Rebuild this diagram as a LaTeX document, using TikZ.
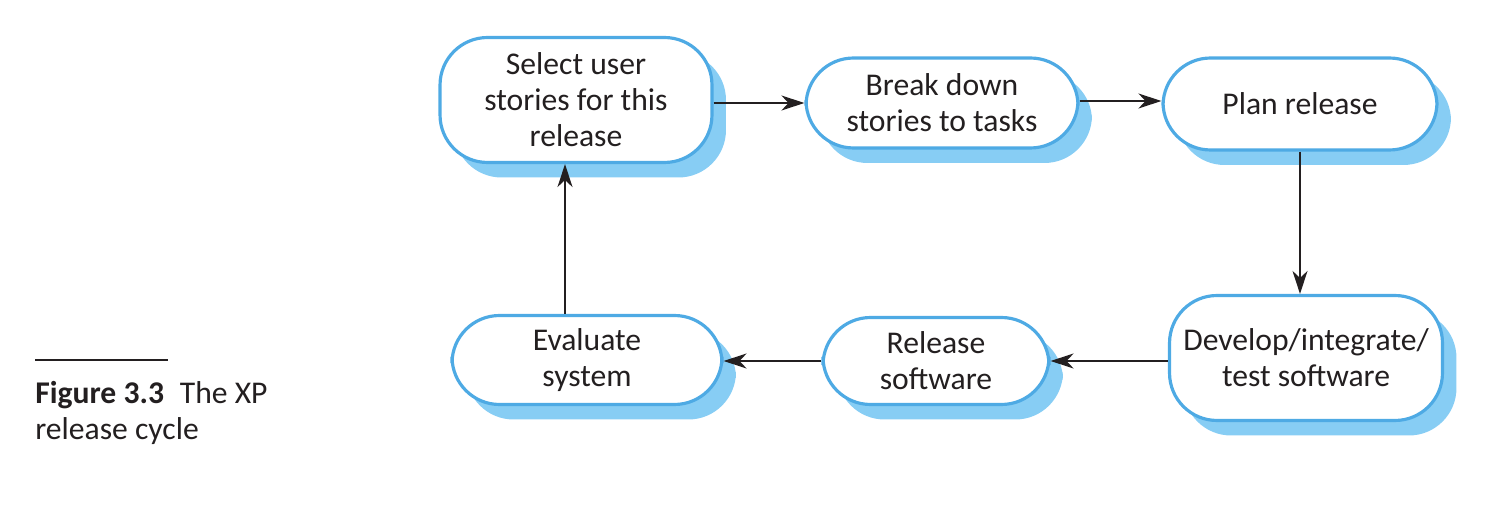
\documentclass[tikz,border=0pt]{standalone}
\usepackage{fontspec}
\setmainfont{Carlito}
\usetikzlibrary{arrows.meta,shadows}
\definecolor{edge}{RGB}{78,170,228}
\definecolor{shade}{RGB}{135,205,244}
\definecolor{ink}{RGB}{35,31,32}
\tikzset{
  stage/.style={draw=edge, line width=1.8pt, fill=white, rounded corners=0.95cm,
    align=center, inner sep=0pt, text=ink, font=\fontsize{18}{20.5}\selectfont,
    drop shadow={shadow xshift=0.28cm, shadow yshift=-0.3cm, fill=shade, opacity=1}},
  flow/.style={line width=0.85pt, draw=ink, -{Stealth[length=0.46cm, width=0.3cm, inset=0.14cm]}}
}
\begin{document}
\begin{tikzpicture}[x=0.02cm, y=-0.02cm]
\useasboundingbox (0,0) rectangle (1494,516);
% process stages
\node[stage, minimum width=5.44cm, minimum height=2.5cm] (sel) at (576,100) {Select user\\stories for this\\release};
\node[stage, minimum width=5.44cm, minimum height=1.8cm] (brk) at (942,103) {Break down\\stories to tasks};
\node[stage, minimum width=5.48cm, minimum height=1.84cm] (pln) at (1300,104) {Plan release};
\node[stage, minimum width=5.46cm, minimum height=2.5cm] (dev) at (1306,358) {Develop/integrate/\\test software};
\node[stage, minimum width=4.52cm, minimum height=1.74cm] (rel) at (936,361) {Release\\software};
\node[stage, minimum width=5.4cm, minimum height=1.78cm] (evl) at (587,360) {Evaluate\\system};
% connectors
\draw[flow] (sel.east |- 0,103) -- (brk.west |- 0,103);
\draw[flow] (brk.east |- 0,101) -- (pln.west |- 0,101);
\draw[flow] (pln.south -| 1300,0) -- (dev.north -| 1300,0);
\draw[flow] (dev.west |- 0,361) -- (rel.east |- 0,361);
\draw[flow] (rel.west |- 0,361) -- (evl.east |- 0,361);
\draw[flow] (evl.north -| 565,0) -- (sel.south -| 565,0);
% caption
\coordinate (capl) at (35,360);
\coordinate (capr) at (168,360);
\draw[line width=0.7pt, ink] (capl) -- (capr);
\node[anchor=north west, align=left, inner sep=0pt, text=ink, font=\fontsize{18}{20.5}\selectfont] (cap) at (35,381)
  {\textbf{Figure 3.3}\enspace The XP\\release cycle};
\end{tikzpicture}
\end{document}
